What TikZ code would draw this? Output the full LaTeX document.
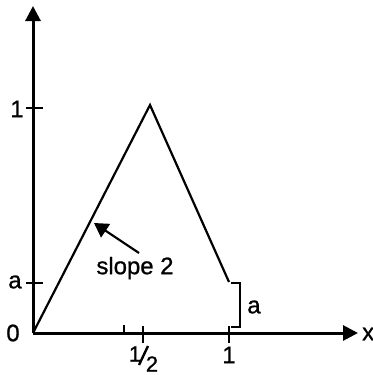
\documentclass[tikz,border=0pt]{standalone}
\usepackage{fontspec}
\setmainfont{Liberation Sans}[FakeBold=0.9]
\usetikzlibrary{arrows.meta}
\begin{document}
\begin{tikzpicture}[x=1bp,y=-1bp,
  axis/.style={line width=3bp,-{Triangle[length=15bp,width=15bp]}},
  curve/.style={line width=2.2bp,line join=miter},
  tickline/.style={line width=1.8bp},
  lbl/.style={font=\fontsize{24}{24}\selectfont,inner sep=0pt},
  fr/.style={font=\fontsize{22}{22}\selectfont,inner sep=0pt},
  pointer/.style={line width=2.2bp,-{Triangle[length=14bp,width=16bp]}}]
\useasboundingbox (0,0) rectangle (373,375);
\fill[white] (0,0) rectangle (373,375);
% axes
\coordinate (O) at (33,333);
\coordinate (ytop) at (33,6);
\coordinate (xend) at (358,333);
\draw[axis] (O) -- (ytop);
\draw[axis] (O) -- (xend);
\node[lbl,anchor=west] (xlab) at (362,334) {x};
% y ticks
\coordinate (y1a) at (26,108); \coordinate (y1b) at (43,108);
\coordinate (yaa) at (26,283); \coordinate (yab) at (43,283);
\draw[tickline] (y1a) -- (y1b);
\draw[tickline] (yaa) -- (yab);
\node[lbl] (l1) at (17,109) {1};
\node[lbl] (la) at (15,282) {a};
\node[lbl] (l0) at (13,333) {0};
% x ticks
\coordinate (t0a) at (124,325); \coordinate (t0b) at (124,333);
\coordinate (t1a) at (143,326); \coordinate (t1b) at (143,343);
\coordinate (t2a) at (229,326); \coordinate (t2b) at (229,343);
\draw[tickline] (t0a) -- (t0b);
\draw[tickline] (t1a) -- (t1b);
\draw[tickline] (t2a) -- (t2b);
\node[fr] (lhn) at (135,354) {1};
\coordinate (sl1) at (139,365); \coordinate (sl2) at (148,346);
\draw[line width=2.4bp] (sl1) -- (sl2);
\node[fr] (lhd) at (152,364) {2};
\node[lbl] (lone) at (229,355) {1};
% triangle
\coordinate (peak) at (150,105);
\coordinate (R) at (229,282);
\draw[curve] (O) -- (peak) -- (R);
% brace
\coordinate (b1) at (231,283); \coordinate (b2) at (240,283);
\coordinate (b3) at (240,327); \coordinate (b4) at (231,327);
\draw[tickline] (b1) -- (b2) -- (b3) -- (b4);
\node[lbl] (lab) at (254,307) {a};
% slope pointer
\coordinate (ptail) at (139,253);
\coordinate (ptip) at (94,223);
\draw[pointer] (ptail) -- (ptip);
\node[lbl] (slope) at (135,268) {slope 2};
\end{tikzpicture}
\end{document}
